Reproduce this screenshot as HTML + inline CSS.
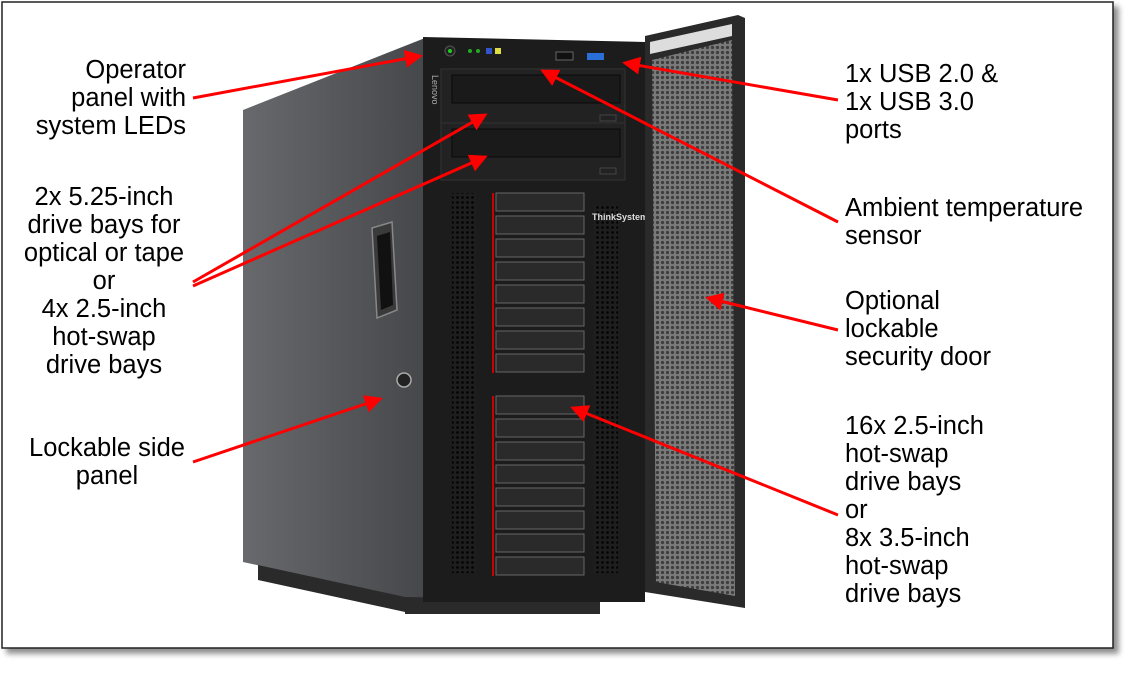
<!DOCTYPE html>
<html><head><meta charset="utf-8"><style>
html,body{margin:0;padding:0;background:#fff;width:1144px;height:679px;overflow:hidden}
svg{position:absolute;left:0;top:0}
text{font-family:"Liberation Sans",Arial,sans-serif;font-size:25.5px;fill:#000}
</style></head><body>
<svg width="1144" height="679" viewBox="0 0 1144 679" xmlns="http://www.w3.org/2000/svg">
<defs>
<pattern id="mesh" width="5" height="5" patternUnits="userSpaceOnUse">
<rect width="5" height="5" fill="#7a7a7a"/><circle cx="2.5" cy="2.5" r="1.6" fill="#3e3e3e"/></pattern>
<pattern id="vent" width="5" height="5" patternUnits="userSpaceOnUse">
<rect width="5" height="5" fill="#1e1e1e"/><circle cx="2.5" cy="2.5" r="1.4" fill="#050505"/></pattern>
<linearGradient id="side" x1="0" y1="0" x2="1" y2="0"><stop offset="0" stop-color="#67696c"/><stop offset="1" stop-color="#45474a"/></linearGradient>
<marker id="ah" markerWidth="6" markerHeight="6" refX="5" refY="3" orient="auto" markerUnits="strokeWidth"><path d="M0,0 L6,3 L0,6 z" fill="#f00"/></marker>
<filter id="sh" x="-5%" y="-5%" width="110%" height="110%"><feDropShadow dx="5" dy="5" stdDeviation="3" flood-color="#000" flood-opacity="0.45"/></filter>
</defs>
<rect x="2" y="2" width="1111" height="646" fill="#fff" stroke="#222" stroke-width="1.5" filter="url(#sh)"/>
<polygon points="243,110 425,38 425,602 243,562" fill="url(#side)"/>
<polygon points="258,565 405,597 405,612 258,580" fill="#2a2a2a"/>
<polygon points="405,597 600,600 600,614 405,614" fill="#2a2a2a"/>
<polygon points="423,37 645,42 645,602 423,602" fill="#1c1c1c"/>
<polygon points="372,228 392,222 397,310 377,318" fill="#3a3a3a" stroke="#888" stroke-width="1.5"/>
<polygon points="377,236 390,232 393,305 381,310" fill="#111"/>
<circle cx="404" cy="380" r="7" fill="#222" stroke="#aaa" stroke-width="1.5"/>
<circle cx="450" cy="51" r="5" fill="#222" stroke="#555"/><circle cx="450" cy="51" r="2" fill="#2c2"/>
<circle cx="470" cy="51" r="2" fill="#2a2"/><circle cx="478" cy="51" r="2" fill="#2a2"/>
<rect x="486" y="48" width="6" height="6" fill="#35c"/><rect x="495" y="48" width="6" height="6" fill="#dd4"/>
<rect x="556" y="52" width="17" height="8" fill="#111" stroke="#666"/>
<rect x="587" y="53" width="17" height="7" fill="#2a6fd8"/>
<text x="432" y="75" transform="rotate(90 432 75)" style="font-size:9px;fill:#aaa">Lenovo</text>
<rect x="441" y="69" width="184" height="56" fill="#222" stroke="#333"/>
<rect x="452" y="75" width="168" height="28" fill="#1a1a1a" stroke="#0a0a0a"/>
<rect x="441" y="123" width="184" height="57" fill="#222" stroke="#333"/>
<rect x="452" y="129" width="168" height="28" fill="#1a1a1a" stroke="#0a0a0a"/>
<rect x="600" y="115" width="16" height="6" fill="none" stroke="#444"/>
<rect x="600" y="168" width="16" height="6" fill="none" stroke="#444"/>
<rect x="452" y="193" width="24" height="380" fill="url(#vent)"/>
<rect x="594" y="205" width="24" height="368" fill="url(#vent)"/>
<text x="592" y="220" style="font-size:9px;fill:#ddd;font-weight:bold">ThinkSystem</text>
<g fill="#2a2a2a" stroke="#666" stroke-width="1">
<rect x="496" y="193" width="88" height="18"/><rect x="496" y="216" width="88" height="18"/><rect x="496" y="239" width="88" height="18"/><rect x="496" y="262" width="88" height="18"/><rect x="496" y="285" width="88" height="18"/><rect x="496" y="308" width="88" height="18"/><rect x="496" y="331" width="88" height="18"/><rect x="496" y="354" width="88" height="18"/>
<rect x="496" y="396" width="88" height="18"/><rect x="496" y="419" width="88" height="18"/><rect x="496" y="442" width="88" height="18"/><rect x="496" y="465" width="88" height="18"/><rect x="496" y="488" width="88" height="18"/><rect x="496" y="511" width="88" height="18"/><rect x="496" y="534" width="88" height="18"/><rect x="496" y="557" width="88" height="18"/>
</g>
<g fill="#c00"><rect x="492" y="193" width="2" height="180"/><rect x="492" y="396" width="2" height="180"/></g>
<polygon points="645,36 738,15 745,18 745,608 645,592" fill="#2a2a2a"/>
<polygon points="652,60 732,40 735,596 656,582" fill="url(#mesh)"/>
<polygon points="650,42 732,24 732,36 650,54" fill="#ddd"/>
<g text-anchor="end">
<text x="186" y="78">Operator</text><text x="186" y="106">panel with</text><text x="186" y="134">system LEDs</text>
</g>
<g text-anchor="middle">
<text x="104" y="205">2x 5.25-inch</text><text x="104" y="233">drive bays for</text><text x="104" y="261">optical or tape</text><text x="104" y="289">or</text><text x="104" y="317">4x 2.5-inch</text><text x="104" y="345">hot-swap</text><text x="104" y="373">drive bays</text>
<text x="107" y="456">Lockable side</text><text x="107" y="484">panel</text>
</g>
<g>
<text x="845" y="82">1x USB 2.0 &amp;</text><text x="845" y="110">1x USB 3.0</text><text x="845" y="138">ports</text>
<text x="845" y="216">Ambient temperature</text><text x="845" y="244">sensor</text>
<text x="845" y="309">Optional</text><text x="845" y="337">lockable</text><text x="845" y="365">security door</text>
<text x="845" y="434">16x 2.5-inch</text><text x="845" y="462">hot-swap</text><text x="845" y="490">drive bays</text><text x="845" y="518">or</text><text x="845" y="546">8x 3.5-inch</text><text x="845" y="574">hot-swap</text><text x="845" y="602">drive bays</text>
</g>
<g stroke="#f00" stroke-width="3" fill="none" marker-end="url(#ah)">
<line x1="193" y1="98" x2="420" y2="56"/>
<line x1="193" y1="282" x2="485" y2="115"/>
<line x1="193" y1="286" x2="485" y2="157"/>
<line x1="193" y1="462" x2="380" y2="399"/>
<line x1="838" y1="100" x2="625" y2="63"/>
<line x1="838" y1="222" x2="543" y2="71"/>
<line x1="838" y1="330" x2="708" y2="298"/>
<line x1="838" y1="515" x2="573" y2="408"/>
</g>
</svg>
</body></html>
